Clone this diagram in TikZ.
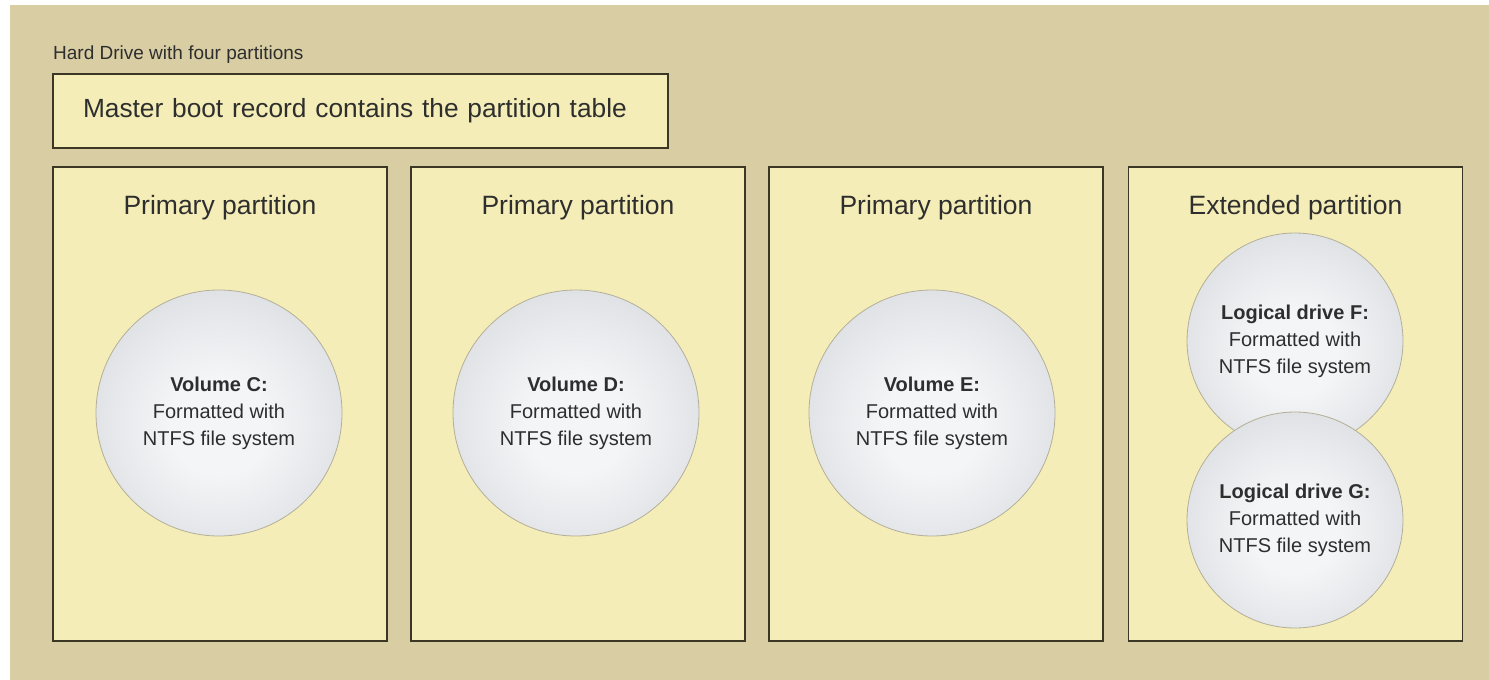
\documentclass[tikz,border=0pt]{standalone}
\usepackage{fontspec}
\setmainfont{Liberation Sans}
\usetikzlibrary{positioning}
\definecolor{drivetan}{HTML}{D8CDA3}
\definecolor{partfill}{HTML}{F5EDB7}
\definecolor{partline}{HTML}{3C3624}
\definecolor{volin}{HTML}{F4F5F7}
\definecolor{volmid}{HTML}{D9DCE0}
\definecolor{volout}{HTML}{B9BDC4}
\definecolor{voledge}{HTML}{B3AF98}
\definecolor{inktext}{HTML}{2E2E2E}
\pgfdeclareradialshading{volshade}{\pgfpoint{0bp}{-3bp}}{%
  color(0bp)=(volin); color(10bp)=(volin); color(32bp)=(volmid);
  color(48bp)=(volout); color(60bp)=(volout)}
\tikzset{
  partbox/.style={draw=partline, line width=1.6pt, fill=partfill,
    minimum width=334pt, minimum height=474pt, inner sep=0pt},
  parttitle/.style={text=inktext, font=\fontsize{26.5}{30}\selectfont,
    inner sep=0pt},
  volume/.style={circle, draw=voledge, line width=0.8pt, shading=volshade,
    inner sep=0pt, align=center, text=inktext,
    font=\fontsize{20}{27}\selectfont},
}
\begin{document}
\begin{tikzpicture}[x=1pt,y=-1pt]
\useasboundingbox (0,0) rectangle (1489,680);
\fill[drivetan] (10,5) rectangle (1489,680);
\node[anchor=base west, inner sep=0pt, text=inktext,
  font=\fontsize{19}{24}\selectfont] (title) at (53,59)
  {Hard Drive with four partitions};
\node[draw=partline, line width=1.6pt, fill=partfill, minimum height=74pt,
  text width=555pt, inner xsep=30pt, align=left, text=inktext,
  font=\fontsize{26.3}{30}\selectfont] (mbr) at (360.5,111)
  {Master boot record contains the partition table};
% the four partitions
\node[partbox] (part1) at (220,404) {};
\node[partbox] (part2) at (578,404) {};
\node[partbox] (part3) at (936,404) {};
\node[partbox] (part4) at (1295.5,404) {};
\node[parttitle, below=29pt of part1.north] (title1) {Primary partition};
\node[parttitle, below=29pt of part2.north] (title2) {Primary partition};
\node[parttitle, below=29pt of part3.north] (title3) {Primary partition};
\node[parttitle, below=29pt of part4.north] (title4) {Extended partition};
% volumes
\node[volume, minimum size=246pt] (volC) at (219,413)
  {\textbf{Volume C:}\\Formatted with\\NTFS file system};
\node[volume, minimum size=246pt] (volD) at (576,413)
  {\textbf{Volume D:}\\Formatted with\\NTFS file system};
\node[volume, minimum size=246pt] (volE) at (932,413)
  {\textbf{Volume E:}\\Formatted with\\NTFS file system};
\node[volume, minimum size=216pt] (logF) at (1295,341)
  {\textbf{Logical drive F:}\\Formatted with\\NTFS file system};
\node[volume, minimum size=216pt] (logG) at (1295,520)
  {\textbf{Logical drive G:}\\Formatted with\\NTFS file system};
\end{tikzpicture}
\end{document}
